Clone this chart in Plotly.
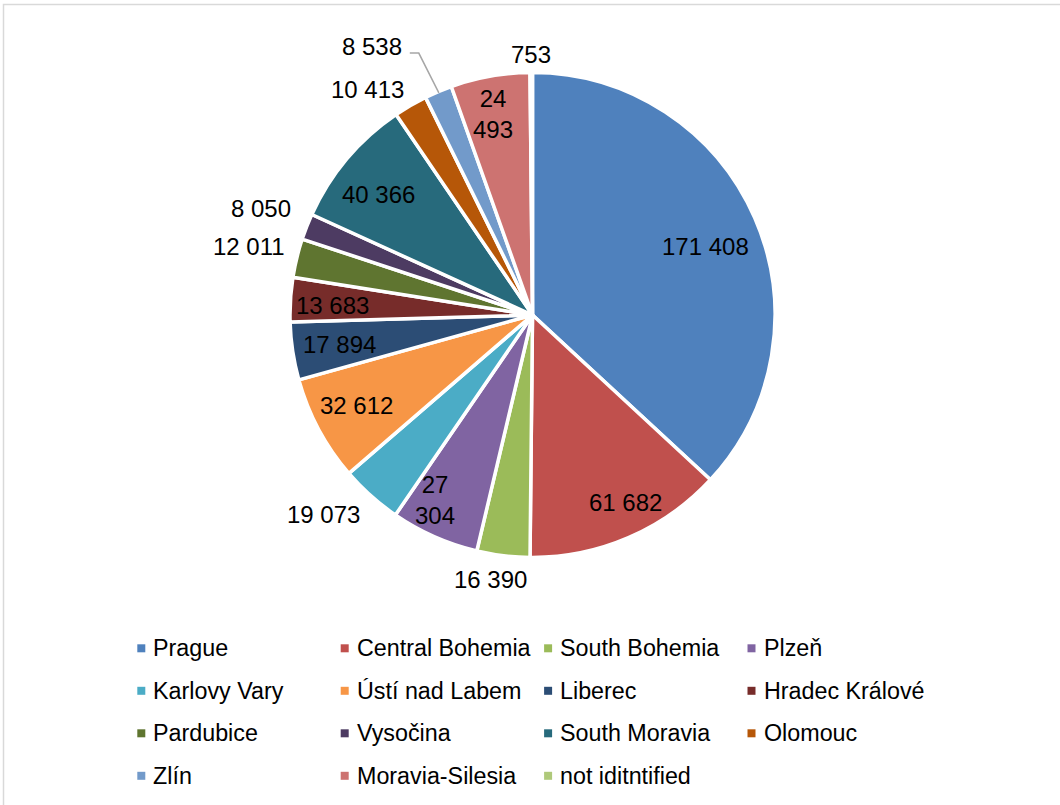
import math
import plotly.graph_objects as go

# Registered items per region
regions = ["Prague", "Central Bohemia", "South Bohemia", "Plzeň", "Karlovy Vary",
           "Ústí nad Labem", "Liberec", "Hradec Králové", "Pardubice", "Vysočina",
           "South Moravia", "Olomouc", "Zlín", "Moravia-Silesia", "not iditntified"]
counts = [171408, 61682, 16390, 27304, 19073, 32612, 17894, 13683, 12011, 8050,
          40366, 10413, 8538, 24493, 753]
colors = ["#4F81BD", "#C0504D", "#9BBB59", "#8064A2", "#4BACC6",
          "#F79646", "#2C4D75", "#772C2A", "#5F7530", "#4D3B62",
          "#276A7C", "#B65708", "#729ACA", "#CD7371", "#AFC97A"]

# ---- layout constants ----
W, H = 1060, 805
CX, CY, R = 532.5, 315.0, 242.5       # pie centre / radius in pixels
R_EDGE = 241.0                        # visible radius after the white slice border
FONT = "Liberation Sans, Arial, sans-serif"
FS_LABEL = 24
FS_LEGEND = 23.3

# label placement per slice: (distance as fraction of radius, angular nudge in degrees)
label_place = [(0.77, 2), (0.87, -3), (1.11, 2), (0.87, 4), (1.20, 4.5),
               (0.82, 1), (0.81, 0), (0.83, -1), (1.21, 0), (1.21, 0),
               (0.81, -2), (1.16, -6), (1.30, -8), (0.85, -1), (1.08, 0)]
wrapped = {"Plzeň", "Moravia-Silesia"}
leader = {"Zlín"}


def px(x):
    return x / W


def py(y):
    return 1 - y / H


def fmt(v):
    return f"{v:,}".replace(",", " ")


fig = go.Figure()
fig.add_trace(go.Pie(
    labels=regions,
    values=counts,
    sort=False,
    direction="clockwise",
    rotation=0,
    marker=dict(colors=colors, line=dict(color="white", width=3.5)),
    textinfo="none",
    hoverinfo="label+value",
    showlegend=False,
    domain=dict(x=[px(CX - R), px(CX + R)], y=[py(CY + R), py(CY - R)]),
))

annotations = []
shapes = []

# data labels, placed from each slice's mid angle
total = sum(counts)
cum = 0
for name, v, (rf, nudge) in zip(regions, counts, label_place):
    mid = (cum + v / 2) / total * 360.0
    cum += v
    ang = math.radians(mid + nudge)
    lx = CX + rf * R_EDGE * math.sin(ang)
    ly = CY - rf * R_EDGE * math.cos(ang)
    txt = fmt(v)
    if name in wrapped:
        txt = txt.replace(" ", "<br>")
    annotations.append(dict(
        x=px(lx), y=py(ly), xref="paper", yref="paper",
        text=txt, showarrow=False, xanchor="center", yanchor="middle",
        font=dict(family=FONT, size=FS_LABEL, color="#000000"),
    ))
    if name in leader:
        digits = sum(c.isdigit() for c in txt)
        spaces = txt.count(" ")
        half_w = (digits * 0.556 + spaces * 0.278) * FS_LABEL / 2
        x0 = lx + half_w + 8
        y0 = ly + 7
        x1 = x0 + 9
        ex = CX + R_EDGE * math.sin(math.radians(mid))
        ey = CY - R_EDGE * math.cos(math.radians(mid))
        shapes.append(dict(
            type="path", xref="paper", yref="paper",
            path=f"M {px(x0)},{py(y0)} L {px(x1)},{py(y0)} L {px(ex)},{py(ey)}",
            line=dict(color="#A6A6A6", width=1.5),
        ))

# legend drawn as a 4-column grid
COL0, COL_STEP = 137.3, 203.4
ROW0, ROW_STEP = 648.3, 42.5
SQ = 8
for i, (name, col) in enumerate(zip(regions, colors)):
    r, c = divmod(i, 4)
    mx = COL0 + c * COL_STEP
    my = ROW0 + r * ROW_STEP
    shapes.append(dict(
        type="rect", xref="paper", yref="paper",
        x0=px(mx), x1=px(mx + SQ), y0=py(my + SQ / 2), y1=py(my - SQ / 2),
        fillcolor=col, line=dict(width=0),
    ))
    annotations.append(dict(
        x=px(mx + 14), y=py(my), xref="paper", yref="paper",
        text=name, showarrow=False, xanchor="left", yanchor="middle",
        font=dict(family=FONT, size=FS_LEGEND, color="#000000"),
    ))

# chart-area frame
shapes.append(dict(
    type="rect", xref="paper", yref="paper",
    x0=px(3.5), y0=-0.02, x1=1.02, y1=py(4.5),
    line=dict(color="#D9D9D9", width=1.5), fillcolor="rgba(0,0,0,0)",
))

fig.update_layout(
    width=W, height=H,
    margin=dict(l=0, r=0, t=0, b=0),
    paper_bgcolor="white",
    plot_bgcolor="white",
    annotations=annotations,
    shapes=shapes,
)

fig.write_html("out.html")
